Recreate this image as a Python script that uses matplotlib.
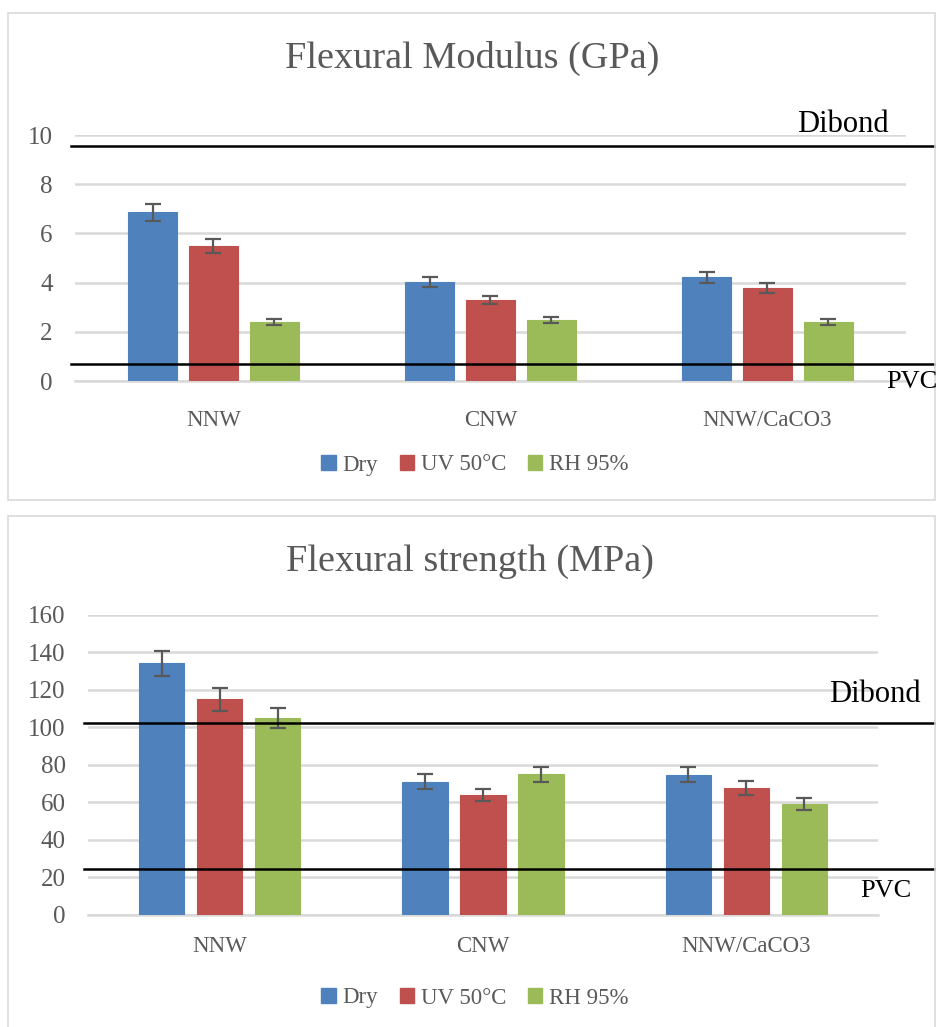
import matplotlib
matplotlib.use("Agg")
import matplotlib.pyplot as plt
import numpy as np
from matplotlib.patches import Rectangle, Patch
import matplotlib.transforms as mtransforms

plt.rcParams['font.family'] = ['Liberation Serif', 'DejaVu Serif']

categories = ["NNW", "CNW", "NNW/CaCO3"]
series = ["Dry", "UV 50°C", "RH 95%"]
colors = ["#4F81BD", "#C0504D", "#9BBB59"]

# Flexural modulus (GPa)
mod_dry = [6.85, 4.04, 4.21]
mod_uv = [5.50, 3.29, 3.78]
mod_rh = [2.40, 2.48, 2.40]
mod_dry_err = [0.33, 0.20, 0.21]
mod_uv_err = [0.29, 0.17, 0.20]
mod_rh_err = [0.12, 0.14, 0.12]
mod_ticks = [0, 2, 4, 6, 8, 10]
mod_dibond = 9.57
mod_pvc = 0.69

# Flexural strength (MPa)
str_dry = [134.0, 70.8, 74.7]
str_uv = [114.9, 63.8, 67.7]
str_rh = [104.9, 75.0, 59.0]
str_dry_err = [6.7, 4.0, 4.0]
str_uv_err = [6.0, 3.2, 3.8]
str_rh_err = [5.5, 4.0, 3.0]
str_ticks = [0, 20, 40, 60, 80, 100, 120, 140, 160]
str_dibond = 102.5
str_pvc = 24.5

W, H = 937, 1027
fig = plt.figure(figsize=(W / 100, H / 100), dpi=100)

def fx(px):
    return px / W

def fy(py):
    return 1 - py / H

grey = "#595959"
gridc = "#D9D9D9"

# frames
for (x0, y0, x1, y1) in [(8, 13, 935, 500), (8, 516, 935, 1030)]:
    fig.add_artist(Rectangle((fx(x0), fy(y1)), fx(x1) - fx(x0), fy(y0) - fy(y1),
                             transform=fig.transFigure, fill=False,
                             edgecolor=gridc, linewidth=1.2))

def draw(ax, vals, errs, ticks, dibond, pvc, line_x, bw, ylab_pad, xlab_pad):
    x = np.arange(len(categories))
    offs = [-0.22, 0.0, 0.22]
    for v, e, c, o, s in zip(vals, errs, colors, offs, series):
        ax.bar(x + o, v, width=bw, color=c, edgecolor=c, linewidth=0.8, zorder=3, label=s)
        ax.errorbar(x + o, v, yerr=e, fmt='none', ecolor=grey, elinewidth=1.6,
                    capsize=6, capthick=1.6, zorder=4)
    ax.set_xlim(-0.5, len(categories) - 0.5)
    ax.set_ylim(ticks[0], ticks[-1])
    ax.set_yticks(ticks)
    ax.set_xticks(x)
    ax.set_xticklabels(categories)
    ax.yaxis.grid(True, color=gridc, linewidth=1.8, zorder=0)
    ax.set_axisbelow(True)
    for s in ["top", "right", "left"]:
        ax.spines[s].set_visible(False)
    ax.spines["bottom"].set_color(gridc)
    ax.spines["bottom"].set_linewidth(1.8)
    ax.tick_params(axis='both', length=0, labelcolor=grey)
    ax.tick_params(axis='y', pad=ylab_pad, labelsize=18)
    ax.tick_params(axis='x', pad=xlab_pad, labelsize=16.5)
    tr = mtransforms.blended_transform_factory(fig.transFigure, ax.transData)
    for val in (dibond, pvc):
        ax.plot([fx(line_x[0]), fx(line_x[1])], [val, val], color="black",
                linewidth=1.8, transform=tr, clip_on=False, zorder=5)

ax1 = fig.add_axes([fx(75), fy(381), fx(906) - fx(75), fy(135) - fy(381)])
draw(ax1, [mod_dry, mod_uv, mod_rh], [mod_dry_err, mod_uv_err, mod_rh_err],
     mod_ticks, mod_dibond, mod_pvc, (71, 935), 0.176, 16, 21)

ax2 = fig.add_axes([fx(88), fy(914.7), fx(878) - fx(88), fy(614.7) - fy(914.7)])
draw(ax2, [str_dry, str_uv, str_rh], [str_dry_err, str_uv_err, str_rh_err],
     str_ticks, str_dibond, str_pvc, (84, 936), 0.172, 16, 15)

# titles
fig.text(fx(472), fy(58), "Flexural Modulus (GPa)", ha="center", va="center",
         fontsize=27.5, color=grey)
fig.text(fx(470), fy(562), "Flexural strength (MPa)", ha="center", va="center",
         fontsize=27.5, color=grey)

# Dibond / PVC labels
fig.text(fx(843), fy(124), "Dibond", ha="center", va="center", fontsize=22, color="black")
fig.text(fx(912), fy(382), "PVC", ha="center", va="center", fontsize=19, color="black")
fig.text(fx(875), fy(695), "Dibond", ha="center", va="center", fontsize=22, color="black")
fig.text(fx(886), fy(891), "PVC", ha="center", va="center", fontsize=19, color="black")

# legends
handles = [Patch(facecolor=c, edgecolor=c) for c in colors]
for ly in (465, 998):
    fig.legend(handles, series, loc="center", bbox_to_anchor=(fx(475), fy(ly)),
               ncol=3, frameon=False, fontsize=16.5, labelcolor=grey,
               handlelength=0.62, handleheight=0.62, handletextpad=0.3,
               columnspacing=0.95)

fig.savefig("out.png", dpi=100)
